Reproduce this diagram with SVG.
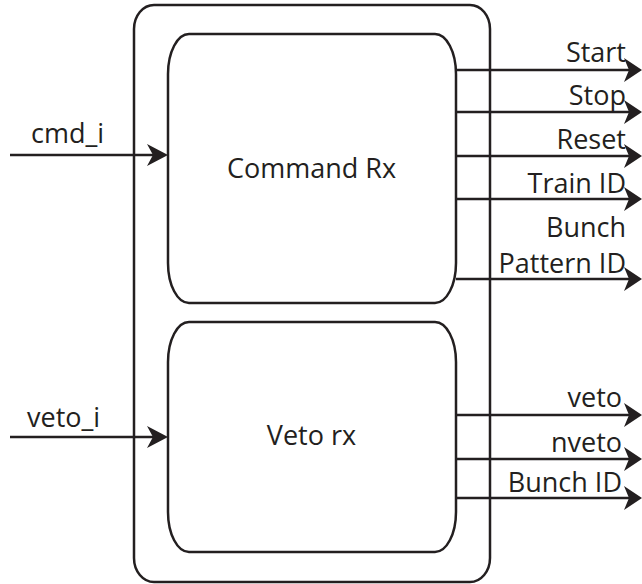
<svg xmlns="http://www.w3.org/2000/svg" width="642" height="584" viewBox="0 0 642 584">
<style>
.box{fill:none;stroke:#231f20;stroke-width:2.5}
.ln{fill:none;stroke:#231f20;stroke-width:2.5}
text{font-family:"Open Sans","Noto Sans","Liberation Sans",sans-serif;font-size:27px;fill:#231f20}
.r{text-anchor:end}
.m{text-anchor:middle}
</style>
<defs>
<marker id="ao" markerUnits="userSpaceOnUse" viewBox="-20 -14 22 28" markerWidth="22" markerHeight="28" refX="-13" refY="0" orient="auto">
<path d="M0,0 L-18,-12 L-13,0 L-18,12 Z" fill="#231f20"/>
</marker>
<marker id="ai" markerUnits="userSpaceOnUse" viewBox="-23 -13 25 26" markerWidth="25" markerHeight="26" refX="-15" refY="0" orient="auto">
<path d="M0,0 L-21,-11 L-15,0 L-21,11 Z" fill="#231f20"/>
</marker>
</defs>
<g id="outer">
<path class="box" d="M154,5 L470,5 A20,24 0 0 1 490,29 L490,558 A20,24 0 0 1 470,582 L154,582 A20,24 0 0 1 134,558 L134,29 A20,24 0 0 1 154,5 Z"/>
</g>
<g id="command-rx">
<path class="box" d="M189,34 L435,34 A21,40 0 0 1 456,74 L456,263 A21,40 0 0 1 435,303 L189,303 A21,40 0 0 1 168,263 L168,74 A21,40 0 0 1 189,34 Z"/>
<text class="m" x="311.5" y="178">Command Rx</text>
</g>
<g id="veto-rx">
<path class="box" d="M189,322 L435,322 A21,40 0 0 1 456,362 L456,512 A21,40 0 0 1 435,552 L189,552 A21,40 0 0 1 168,512 L168,362 A21,40 0 0 1 189,322 Z"/>
<text class="m" x="311.5" y="445">Veto rx</text>
</g>
<g id="connectors">
<line class="ln" x1="10" y1="155" x2="153" y2="155" marker-end="url(#ai)"/>
<line class="ln" x1="10" y1="437" x2="153" y2="437" marker-end="url(#ai)"/>
<line class="ln" x1="456" y1="70" x2="629" y2="70" marker-end="url(#ao)"/>
<line class="ln" x1="456" y1="112" x2="629" y2="112" marker-end="url(#ao)"/>
<line class="ln" x1="456" y1="156" x2="629" y2="156" marker-end="url(#ao)"/>
<line class="ln" x1="456" y1="199" x2="629" y2="199" marker-end="url(#ao)"/>
<line class="ln" x1="456" y1="279" x2="629" y2="279" marker-end="url(#ao)"/>
<line class="ln" x1="456" y1="415" x2="629" y2="415" marker-end="url(#ao)"/>
<line class="ln" x1="456" y1="459" x2="629" y2="459" marker-end="url(#ao)"/>
<line class="ln" x1="456" y1="498" x2="629" y2="498" marker-end="url(#ao)"/>
</g>
<g id="labels">
<text x="31" y="143">cmd_i</text>
<text x="27" y="427">veto_i</text>
<text class="r" x="626" y="62">Start</text>
<text class="r" x="626" y="105">Stop</text>
<text class="r" x="626" y="149">Reset</text>
<text class="r" x="626" y="193">Train ID</text>
<text class="r" x="626" y="237">Bunch</text>
<text class="r" x="626" y="273">Pattern ID</text>
<text class="r" x="622" y="407">veto</text>
<text class="r" x="622" y="452">nveto</text>
<text class="r" x="622" y="492">Bunch ID</text>
</g>
</svg>
